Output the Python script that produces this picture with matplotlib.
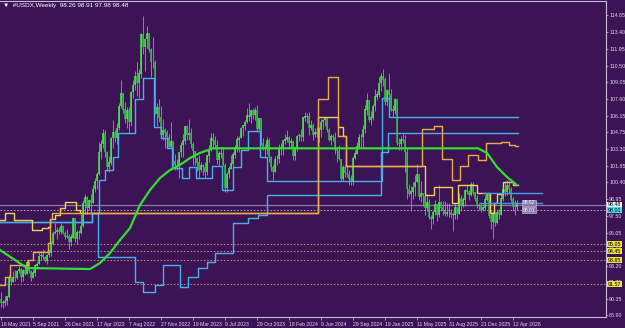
import numpy as np
import matplotlib.pyplot as plt

plt.rcParams['font.family'] = ['Liberation Sans', 'DejaVu Sans']

# weekly #USDX candles, bar 0 = 16 May 2021
closes = [
    90.0, 90.0, 90.1, 90.5, 92.2, 91.8, 92.2, 92.1, 92.7, 92.9, 92.2, 92.8, 92.5, 93.5, 92.7, 92.1, 92.6,
    93.2, 93.3, 94.0, 94.1, 93.9, 93.6, 94.1, 94.3, 95.1, 96.0, 96.1, 96.2, 96.1, 96.6, 96.0, 95.7,
    95.7, 95.2, 95.6, 97.3, 95.5, 96.1, 96.0, 96.6, 98.6, 99.1, 98.2, 98.8, 98.6, 99.8, 100.5, 101.1,
    103.0, 103.7, 104.6, 103.0, 101.7, 102.1, 104.2, 104.7, 104.2, 105.1, 107.0, 108.1, 106.7, 105.9,
    106.6, 105.6, 108.2, 108.8, 109.6, 109.0, 109.8, 113.2, 112.1, 112.8, 113.3, 111.9, 110.8, 110.8,
    106.3, 106.9, 106.0, 104.5, 104.9, 104.7, 104.3, 103.5,
    103.9, 102.2, 101.9, 101.9, 103.0, 103.6, 104.0, 105.2, 104.5, 104.6, 103.7, 103.1, 102.5, 102.1,
    101.5, 101.9, 101.7, 101.3, 102.7, 103.2, 104.2, 104.0, 103.6, 102.3, 102.9, 102.9, 101.9, 99.9,
    101.1, 101.6, 102.0, 102.8, 103.4, 104.1, 104.2, 105.1, 105.3, 105.6, 106.2, 106.1, 106.6, 106.2,
    106.6, 105.0, 105.9, 103.8, 103.4, 103.3, 104.0, 102.6, 101.7, 101.3,
    102.4, 102.4, 103.3, 103.4, 104.0, 104.1, 104.3, 103.8, 103.9, 102.7, 103.4, 104.4, 104.5, 104.3,
    106.0, 106.1, 106.1, 105.1, 105.3, 104.5, 104.7, 104.6, 104.9, 105.6, 105.8, 105.9, 104.9, 104.1,
    104.4, 104.3, 103.2, 103.1, 102.4, 100.7, 101.7, 101.2, 101.1, 100.7, 100.4, 102.5, 102.9, 103.5,
    104.3, 104.3, 105.0, 106.7, 107.5, 105.8, 106.0, 107.0, 107.8, 108.0, 109.0,
    109.6, 109.3, 107.4, 108.4, 108.0, 106.7, 106.6, 107.6, 103.8, 103.7, 104.1, 104.0, 103.0, 99.8,
    99.4, 99.6, 100.0, 100.4, 101.1, 99.1, 99.4, 99.2, 98.2, 98.7, 97.4, 97.2, 97.8, 98.5, 97.6, 98.7,
    98.2, 97.9, 97.7, 97.8, 97.8, 97.6, 97.6, 98.2, 97.7, 99.0, 98.4, 98.9, 99.7, 99.6, 99.3, 100.2,
    99.5, 99.0, 98.4, 98.4, 98.0, 98.2,
    98.9, 99.4, 97.5, 97.0, 97.6, 96.9, 97.8, 97.6, 99.0, 99.8, 99.6, 100.1, 99.8, 98.9, 98.3, 98.26, 98.48,
]
highs = [
    90.9, 90.2, 90.6, 90.6, 92.4, 92.1, 92.7, 92.8, 92.8, 93.2, 93.0, 92.9, 93.2, 93.7, 93.5, 92.8, 92.9,
    93.3, 93.5, 94.5, 94.3, 94.6, 94.0, 94.2, 94.6, 95.3, 96.2, 96.9, 96.5, 96.5, 96.9, 96.7, 96.2,
    96.4, 95.9, 95.9, 97.4, 97.2, 96.3, 96.3, 97.7, 98.9, 99.4, 99.2, 99.0, 99.4, 100.2, 100.8, 101.3,
    103.9, 104.1, 105.0, 104.9, 103.1, 102.7, 104.3, 105.8, 104.9, 105.5, 107.3, 109.3, 107.9, 107.4,
    106.9, 106.9, 108.3, 109.3, 110.0, 110.8, 110.2, 113.3, 114.8, 112.9, 113.9, 113.3, 112.0, 113.0,
    111.0, 107.3, 107.6, 107.0, 105.9, 105.1, 104.9, 104.6,
    105.6, 103.9, 102.9, 102.4, 103.0, 103.9, 104.6, 105.3, 105.4, 105.9, 105.1, 103.9, 103.1, 102.6,
    102.8, 102.2, 102.0, 102.2, 102.8, 103.6, 104.7, 104.7, 104.4, 104.1, 103.1, 103.5, 103.5, 102.1,
    101.3, 101.8, 102.8, 103.0, 103.6, 104.4, 104.4, 105.2, 105.4, 105.8, 106.8, 107.3, 106.7, 106.8,
    106.9, 107.1, 106.0, 106.0, 104.2, 103.7, 104.3, 104.2, 102.7, 101.9,
    102.7, 102.8, 103.7, 103.8, 104.1, 104.6, 104.9, 104.4, 104.2, 104.0, 103.5, 104.5, 104.7, 105.0,
    106.1, 106.5, 106.4, 106.5, 105.8, 105.5, 105.1, 105.2, 105.2, 105.9, 105.9, 106.1, 106.0, 105.1,
    104.6, 104.6, 104.8, 103.4, 103.6, 102.4, 101.9, 101.9, 101.8, 101.5, 101.0, 102.7, 103.2, 103.9,
    104.6, 104.6, 105.4, 107.1, 108.1, 107.4, 106.6, 107.2, 108.5, 108.3, 109.5,
    109.9, 110.2, 109.5, 108.5, 109.9, 108.5, 107.1, 107.7, 107.5, 104.2, 104.4, 104.6, 104.5, 103.4,
    100.3, 100.1, 100.4, 101.0, 102.0, 101.1, 100.5, 99.5, 99.2, 99.4, 99.0, 97.6, 98.0, 98.9, 98.5, 100.2,
    98.8, 98.8, 98.8, 98.6, 98.6, 98.1, 97.8, 98.6, 98.2, 99.5, 99.3, 99.1, 99.8, 100.3, 99.7, 100.4,
    100.4, 99.6, 99.3, 98.6, 98.6, 98.4,
    99.3, 99.5, 99.4, 97.9, 97.9, 97.8, 98.0, 98.1, 99.4, 100.2, 100.5, 100.6, 100.5, 100.0, 99.1, 98.9, 98.91,
]
lows = [
    89.6, 89.5, 89.7, 89.8, 90.4, 91.5, 91.8, 91.9, 92.0, 92.6, 91.8, 91.9, 92.4, 92.5, 92.6, 91.9, 92.1,
    92.3, 92.9, 93.3, 93.7, 93.8, 93.5, 93.3, 93.9, 94.0, 95.0, 95.9, 95.5, 95.9, 95.9, 95.9, 95.5,
    95.6, 94.6, 94.9, 95.6, 95.2, 95.1, 95.5, 95.9, 96.5, 97.7, 97.7, 98.0, 97.7, 98.6, 99.6, 99.8,
    101.0, 102.4, 103.4, 102.6, 101.4, 101.3, 101.9, 103.4, 103.9, 103.7, 104.9, 106.8, 106.4, 105.5,
    105.1, 104.6, 105.3, 107.7, 108.4, 107.9, 107.7, 109.4, 111.5, 110.0, 112.0, 111.7, 109.5, 110.3,
    106.3, 105.3, 105.6, 104.4, 104.1, 103.4, 103.8, 103.4,
    103.4, 101.8, 101.5, 101.5, 100.8, 102.6, 102.6, 103.7, 104.1, 104.1, 103.4, 101.9, 101.9, 101.4,
    100.8, 101.3, 101.0, 100.8, 101.0, 102.2, 103.1, 103.4, 103.3, 102.0, 101.9, 102.5, 101.8, 99.6,
    99.6, 100.8, 101.7, 101.7, 102.5, 103.0, 103.0, 104.3, 104.4, 104.9, 105.5, 105.7, 105.5, 105.9,
    105.8, 104.8, 104.9, 103.6, 103.2, 102.5, 102.9, 102.2, 101.4, 100.6,
    101.3, 101.9, 102.1, 102.8, 102.8, 103.7, 103.9, 103.4, 103.4, 102.3, 102.3, 103.1, 104.0, 104.0,
    104.0, 105.7, 105.5, 104.5, 104.9, 104.1, 104.3, 104.3, 103.9, 104.3, 105.0, 105.3, 104.8, 104.0,
    103.6, 104.0, 102.9, 102.2, 102.3, 100.5, 100.5, 100.9, 100.9, 100.2, 100.2, 100.2, 102.4, 102.9,
    103.4, 103.5, 103.4, 104.7, 106.2, 105.6, 105.4, 105.8, 106.6, 107.5, 107.8,
    108.3, 108.7, 107.1, 107.0, 107.2, 106.6, 106.1, 106.3, 103.6, 103.2, 103.2, 103.8, 101.3, 99.0,
    99.2, 97.9, 99.0, 99.2, 100.4, 98.9, 98.7, 98.4, 97.6, 97.9, 97.2, 96.4, 96.8, 97.6, 97.1, 97.4,
    97.9, 97.6, 97.5, 97.5, 97.4, 97.3, 96.2, 97.2, 97.2, 97.9, 97.9, 98.3, 98.4, 99.4, 98.9, 99.2,
    99.3, 98.8, 98.2, 98.0, 97.8, 97.9,
    98.0, 98.8, 97.3, 96.4, 95.5, 96.6, 96.8, 97.2, 97.6, 98.8, 99.2, 99.3, 99.4, 98.7, 97.9, 97.6, 97.98,
]
first_open = 90.3
last_open = 98.26

# green average line: (bar, value) vertices
ma_bars = [-0.5, 13, 44.5, 49.5, 54.5, 59.5, 64.5, 69.5, 74.5, 79.5, 84.5, 89.5, 94.5, 99.5, 106,
           238.5, 243, 248, 253, 258]
ma_vals = [94.55, 92.99, 92.90, 93.42, 94.29, 95.41, 96.45, 98.44, 99.74, 100.78, 101.47, 101.91,
           102.51, 102.95, 103.35, 103.35, 102.95, 101.73, 100.87, 100.17]

# stepped lines: bar where level starts, level
blue1_bars = [-0.5, 45.5, 49, 52, 56, 58.5, 67, 71, 76.5, 80, 83, 85.5, 90.5, 94, 97.5, 105.5, 110.5,
              116, 120, 123.5, 129.5, 133, 190.5, 194]
blue1_vals = [97.00, 97.75, 100.6, 101.5, 102.6, 104.68, 107.62, 109.44, 105.2, 104.24, 103.38, 101.65,
              100.78, 101.73, 100.78, 101.82, 99.74, 101.73, 103.2, 104.83, 102.6, 100.52, 107.7, 106.06]
blue2_bars = [-0.5, 45.5, 48.5, 67, 71, 77, 81, 89.5, 93.5, 98.5, 103, 107, 116, 123.5, 128.5, 133,
              190, 193.5]
blue2_vals = [97.00, 97.75, 93.94, 91.78, 90.91, 91.52, 93.25, 91.35, 92.21, 92.99, 93.51, 94.29,
              96.89, 97.32, 97.58, 99.31, 103.03, 104.68]
gold_bars = [-0.5, 2, 4.5, 13.5, 16, 23.5, 24.5, 25.5, 158.5, 163.5, 168.5, 172.5, 210.5, 216.5,
             220.5, 225.5, 229.5, 233.5, 238.5, 242.5, 250, 254, 257]
gold_vals = [91.52, 92.24, 93.25, 93.68, 94.40, 95.15, 97.21, 97.75, 107.62, 109.53, 104.42, 101.82,
             105.02, 105.28, 102.43, 100.61, 101.8, 102.77, 102.34, 103.84, 103.92, 103.64, 103.55]
yellow_bars = [-0.5, 2, 6.5, 15.5, 20.5, 23.5, 24.5, 27, 29.5, 32, 37.5, 39.5, 158.5, 168.5, 171,
               172.5, 212, 216.5, 225.5, 228.5, 238, 244.5, 246.5, 248, 251, 256]
yellow_vals = [97.15, 97.78, 97.15, 96.28, 96.43, 96.54, 97.21, 97.58, 98.2, 98.73, 98.01, 97.75,
               106.06, 105.20, 104.42, 101.82, 99.31, 100.03, 98.62, 100.17, 99.48, 97.75, 98.6,
               99.4, 100.43, 100.17]
line_end = 258.5

# short blue levels on the right
seg_vals = [99.48, 98.62]
seg_start = [241, 239.5]
seg_end = 270.5

bid, ask_line = 98.48, 98.01
levels = [95.05, 94.45, 93.65, 91.57]

ytick_vals = [114.85, 113.40, 111.95, 110.50, 109.05, 107.60, 106.15, 104.75, 103.30, 101.85, 100.40,
              98.95, 97.50, 96.05, 94.60, 93.20, 91.75, 90.35, 88.90]
xtick_labels = ["16 May 2021", "5 Sep 2021", "26 Dec 2021", "17 Apr 2022", "7 Aug 2022", "27 Nov 2022",
                "19 Mar 2023", "9 Jul 2023", "29 Oct 2023", "18 Feb 2024", "9 Jun 2024", "29 Sep 2024",
                "19 Jan 2025", "11 May 2025", "31 Aug 2025", "21 Dec 2025", "12 Apr 2026"]

bg = '#3c1456'
axc = '#c9b8da'
txtc = '#e4d8ef'
fig = plt.figure(figsize=(6.25, 3.28), dpi=100)
fig.patch.set_facecolor(bg)
ax = fig.add_axes([0, 11 / 328, 606 / 625, 1 - 12 / 328])
ax.set_facecolor(bg)

c = np.array(closes)
o = np.array([first_open] + closes[:-1])
o[-1] = last_open
h = np.maximum(np.array(highs), np.maximum(o, c))
l = np.minimum(np.array(lows), np.minimum(o, c))
x = np.arange(len(c))

# horizontal price lines (behind)
ax.axhline(bid, color='#8d78a6', lw=0.9, zorder=1)
ax.axhline(ask_line, color='#b9b4d8', lw=0.6, ls=(0, (2, 2)), zorder=1)
for lv in levels:
    ax.axhline(lv, color='#d79a6a', lw=0.6, ls=(0, (2, 2)), zorder=1)

ax.vlines(x, l, h, color='#8fa47a', lw=0.6, zorder=2)
up = c >= o
ax.vlines(x[up], o[up], c[up] + 0.04, color='#44ee44', lw=1.1, zorder=3)
ax.vlines(x[~up], c[~up], o[~up] + 0.04, color='#2fbf3f', lw=1.1, zorder=3)


def steps(bars, vals, **kw):
    ax.plot(list(bars) + [line_end], list(vals) + [vals[-1]], drawstyle='steps-post', **kw)


steps(blue2_bars, blue2_vals, color='#45b0ea', lw=1.0, zorder=4)
steps(blue1_bars, blue1_vals, color='#45b0ea', lw=1.0, zorder=4)
steps(yellow_bars, yellow_vals, color='#f3cf55', lw=1.0, zorder=4)
steps(gold_bars, gold_vals, color='#e8ab45', lw=1.0, zorder=4)
for v, s in zip(seg_vals, seg_start):
    ax.plot([s, seg_end], [v, v], color='#3f9fe6', lw=1.0, zorder=4)
ax.plot(ma_bars, ma_vals, color='#2fe02f', lw=1.6, zorder=5)

# small labels on chart
for v, txt in zip([98.62, 98.01], ["98.62", "98.01"]):
    ax.text(261, v, txt, fontsize=3.6, color='white', va='center', ha='left', zorder=6,
            bbox=dict(boxstyle='square,pad=0.12', fc='#8a78a8', ec='#d8d0e8', lw=0.4))

ax.set_xlim(-0.5, 302.5)
ax.set_ylim(88.75, 116.1)

ax.yaxis.tick_right()
ax.set_yticks(ytick_vals)
ax.set_yticklabels([f"{v:.2f}" for v in ytick_vals])
ax.tick_params(axis='y', colors=axc, labelsize=3.8, length=1.5, width=0.5, pad=0.8, labelcolor=txtc)
ax.set_xticks(np.arange(0, 16 * len(xtick_labels), 16))
ax.set_xticklabels(xtick_labels)
ax.tick_params(axis='x', colors=axc, labelsize=3.7, length=2.5, width=0.5, pad=1, labelcolor=txtc)
for t in ax.get_xticklabels():
    t.set_horizontalalignment('left')

ax.spines['left'].set_visible(False)
for s in ['right', 'bottom', 'top']:
    ax.spines[s].set_color(axc)
    ax.spines[s].set_linewidth(0.8)

tr = ax.get_yaxis_transform()
boxes = [(bid, '98.48', '#f4f4f4'), (ask_line, '98.01', '#3fe0ee')] + \
        [(lv, f"{lv:.2f}", '#ecdf3a') for lv in levels]
for v, txt, fc in boxes:
    ax.text(1.003, v, txt, transform=tr, fontsize=3.8, color='black', va='center', ha='left',
            zorder=7, clip_on=False,
            bbox=dict(boxstyle='square,pad=0.1', fc=fc, ec='none'))

fig.text(3 / 625, 1 - 6 / 328, "\u25BC  #USDX,Weekly  98.26 98.91 97.98 98.48", fontsize=4.6,
         color='white', va='center', ha='left')

fig.savefig('out.png', dpi=100, facecolor=bg)
